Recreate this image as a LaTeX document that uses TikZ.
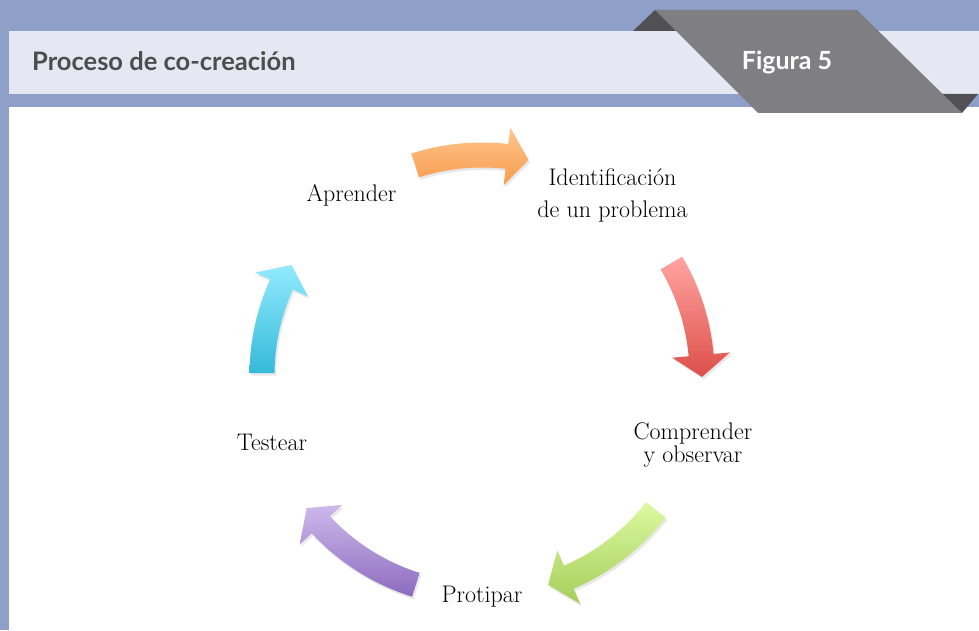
\documentclass[tikz,border=0pt]{standalone}
\usepackage{fontspec}
\usepackage{tikz}
\usetikzlibrary{shadows}
\newfontfamily\headfont{Lato}
\definecolor{bandblue}{HTML}{8E9FC8}
\definecolor{headlight}{HTML}{E5E8F2}
\definecolor{tabgray}{HTML}{7F7E82}
\definecolor{tabdark}{HTML}{505055}
\definecolor{titlegray}{HTML}{4D4D4F}
\definecolor{orangetop}{HTML}{FFC68C}
\definecolor{orangebot}{HTML}{F79C4E}
\definecolor{redtop}{HTML}{FFA4A1}
\definecolor{redbot}{HTML}{DE4F4A}
\definecolor{greentop}{HTML}{DCF9A0}
\definecolor{greenbot}{HTML}{A6CF5B}
\definecolor{purpletop}{HTML}{CDB9EC}
\definecolor{purplebot}{HTML}{8C6BBE}
\definecolor{bluetop}{HTML}{93EAFD}
\definecolor{bluebot}{HTML}{34BAD9}

\begin{document}
\begin{tikzpicture}[x=1pt,y=1pt,
	steplabel/.style={font=\fontsize{24}{32}\selectfont, inner sep=0pt, align=center, anchor=base},
	cyclearrow/.style={drop shadow={shadow xshift=1.5pt, shadow yshift=-2.5pt, opacity=0.18}}]
\useasboundingbox (0,0) rectangle (979,630);
% frame and header
\fill[bandblue] (0,0) rectangle (979,630);
\fill[white] (9,0) rectangle (979,523);
\fill[headlight] (9,536) rectangle (979,599);
\fill[tabdark] (633,599) -- (655,620) -- (677,599) -- cycle;
\fill[tabdark] (940,536) -- (978,536) -- (962,517) -- cycle;
\fill[tabgray] (655,620) -- (857,620) -- (962,517) -- (758,517) -- cycle;
\node[anchor=base west, inner sep=0pt, text=titlegray, font=\headfont\bfseries\fontsize{25.5}{30}\selectfont] (title) at (32,559) {Proceso de co-creación};
\node[anchor=base, inner sep=0pt, text=white, font=\headfont\bfseries\fontsize{25}{30}\selectfont] (figlabel) at (787,560) {Figura 5};
% cycle of arrows
\coordinate (cyc) at (482,255);
\begin{scope}[shift={(cyc)}]
\foreach \tail/\tip/\ctop/\cbot in {107.7/77.8/orangetop/orangebot, 30.6/-0.5/redtop/redbot, -37.8/-72.5/greentop/greenbot, -107.5/-142.8/purpletop/purplebot, 179.5/150/bluetop/bluebot} {
	\pgfmathsetmacro\hbase{\tip+5.7}
	\shade[top color=\ctop, bottom color=\cbot, cyclearrow]
		(\tail:232.5) arc[start angle=\tail, end angle=\hbase, radius=232.5]
		-- (\hbase:249) -- (\tip:220) -- (\hbase:191) -- (\hbase:207.5)
		arc[start angle=\hbase, end angle=\tail, radius=207.5] -- cycle;
	};
\end{scope}
% steps
\node[steplabel] (learn) at (351.5,428) {Aprender};
\node[steplabel] (identify) at (612.5,412) {Identificación\\de un problema};
\node[steplabel, font=\fontsize{24}{23}\selectfont] (understand) at (693,168) {Comprender\\y observar};
\node[steplabel] (prototype) at (482,28) {Protipar};
\node[steplabel] (test) at (272,180) {Testear};
\end{tikzpicture}
\end{document}
